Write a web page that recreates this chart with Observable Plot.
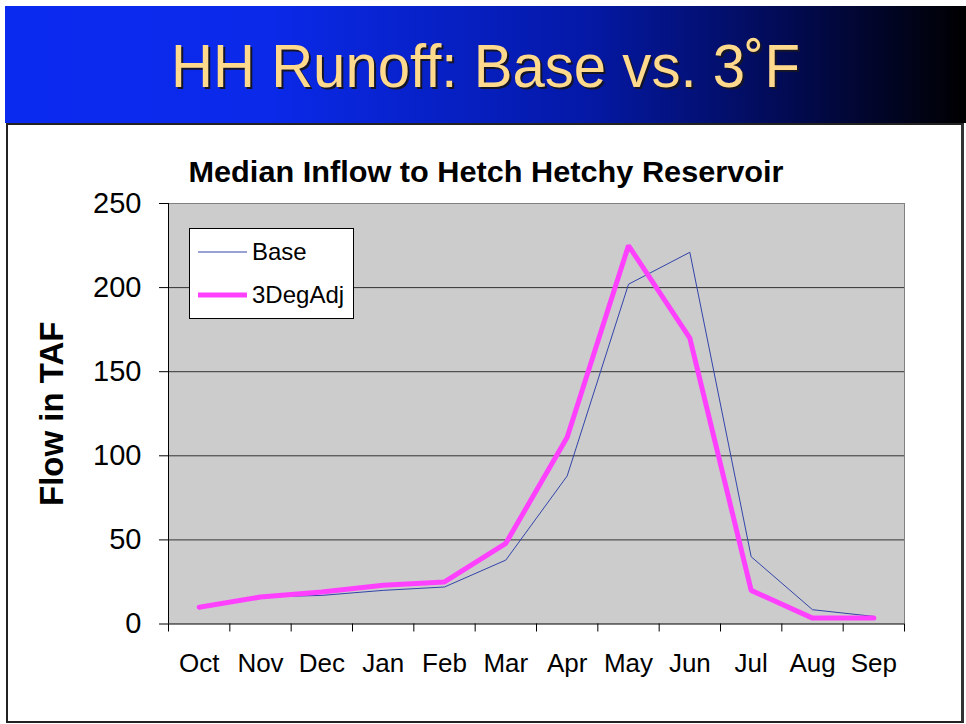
<!DOCTYPE html>
<html><head><meta charset="utf-8">
<script src="https://cdn.jsdelivr.net/npm/d3@7"></script>
<script src="https://cdn.jsdelivr.net/npm/@observablehq/plot@0.6"></script>
<style>
body{margin:0;background:#fff;width:966px;height:724px;position:relative;overflow:hidden;font-family:"Liberation Sans",Arial,sans-serif;}
#header{position:absolute;left:5px;top:6px;width:961px;height:117px;background:linear-gradient(to right,#0b2af0 0%,#0a29e8 28%,#0419a8 60%,#020a50 82%,#000000 100%);}
#header svg{position:absolute;left:0;top:0;}
#panel{position:absolute;left:6px;top:123px;width:953px;height:596px;border:2px solid #222;border-right:3px solid #333;background:#fff;}
#chart{position:absolute;left:0;top:124px;}
#legend{position:absolute;left:189px;top:228px;}
</style>
</head>
<body>
<div id="header">
<svg width="961" height="117">
<text id="t1" x="480.5" y="81" text-anchor="middle" font-family="Liberation Sans, Arial, sans-serif" font-size="61" fill="#FFD98C" textLength="629" lengthAdjust="spacingAndGlyphs" style="filter: drop-shadow(2.5px 2.5px 0 #15152a);"></text>
</svg>
</div>
<div id="panel"></div>
<div id="chart"></div>
<div id="legend"></div>
<script>
// ---- data ----
const slideTitle = "HH Runoff: Base vs. 3˚F";
const chartTitle = "Median Inflow to Hetch Hetchy Reservoir";
const yLabel = "Flow in TAF";
const months = ["Oct","Nov","Dec","Jan","Feb","Mar","Apr","May","Jun","Jul","Aug","Sep"];
const baseValues = [10, 16, 17, 20, 22, 38, 88, 202, 221, 40, 8.5, 4.5];
const adjValues  = [10, 16, 19, 23, 25, 48, 111, 225, 170, 20, 3.5, 3.5];
const seriesNames = ["Base", "3DegAdj"];
const yTicks = [0, 50, 100, 150, 200, 250];

document.getElementById("t1").textContent = slideTitle;

const rows = months.map((m, i) => ({month: m, x: i + 0.5, base: baseValues[i], adj: adjValues[i]}));
const baseColor = "#3344AA";
const adjColor = "#FF40FF";

const chart = Plot.plot({
  width: 966,
  height: 600,
  marginLeft: 168,
  marginRight: 62,
  marginTop: 79,
  marginBottom: 100.5,
  x: {domain: [0, months.length], axis: null},
  y: {domain: [0, 250], axis: null},
  style: {fontFamily: "Liberation Sans, Arial, sans-serif", background: "transparent", overflow: "visible", color: "#000"},
  marks: [
    Plot.frame({fill: "#cccccc", stroke: "none"}),
    Plot.ruleY(yTicks.filter(v => v > 0 && v < 250), {stroke: "#333333", strokeWidth: 1}),
    Plot.ruleY([250], {stroke: "#808080", strokeWidth: 1}),
    Plot.ruleX([months.length], {stroke: "#808080", strokeWidth: 1}),
    Plot.line(rows, {x: "x", y: "base", stroke: baseColor, strokeWidth: 1}),
    Plot.line(rows, {x: "x", y: "adj", stroke: adjColor, strokeWidth: 5, strokeLinejoin: "miter"}),
    Plot.ruleX([0], {stroke: "#000", strokeWidth: 1}),
    Plot.ruleY([0], {stroke: "#000", strokeWidth: 1}),
    Plot.axisY({ticks: yTicks, tickSize: 9, tickPadding: 18, fontSize: 29, label: null}),
    Plot.axisX({ticks: d3.range(months.length + 1), tickSize: 8, tickFormat: () => "", label: null}),
    Plot.axisX({ticks: rows.map(d => d.x), tickSize: 0, tickPadding: 30, fontSize: 26, label: null,
      tickFormat: v => months[Math.floor(v)]}),
    Plot.text([yLabel], {frameAnchor: "left", textAnchor: "middle", lineAnchor: "middle", rotate: -90, dx: -116.5, fontSize: 33, fontWeight: "bold", fill: "#000"}),
    Plot.text([chartTitle], {frameAnchor: "top", textAnchor: "middle", dx: -50.5, dy: -22, lineAnchor: "bottom", fontSize: 29, fontWeight: "bold", fill: "#000"})
  ]
});
document.getElementById("chart").appendChild(chart);
d3.select(chart).selectAll("text").filter(function() { return this.textContent === chartTitle; })
  .attr("textLength", 595).attr("lengthAdjust", "spacingAndGlyphs");

// legend
const lg = d3.select("#legend").append("svg").attr("width", 165).attr("height", 91);
lg.append("rect").attr("x", 0.5).attr("y", 0.5).attr("width", 164).attr("height", 90).attr("fill", "#fff").attr("stroke", "#000");
const lgItems = [{name: seriesNames[0], color: baseColor, w: 1, y: 24}, {name: seriesNames[1], color: adjColor, w: 5, y: 67}];
lgItems.forEach(it => {
  lg.append("line").attr("x1", 9).attr("x2", 58).attr("y1", it.y).attr("y2", it.y).attr("stroke", it.color).attr("stroke-width", it.w);
  lg.append("text").attr("x", 63).attr("y", it.y + 8).attr("font-size", 24).attr("font-family", "Liberation Sans, Arial, sans-serif").attr("fill", "#000").text(it.name);
});
</script>
</body></html>
